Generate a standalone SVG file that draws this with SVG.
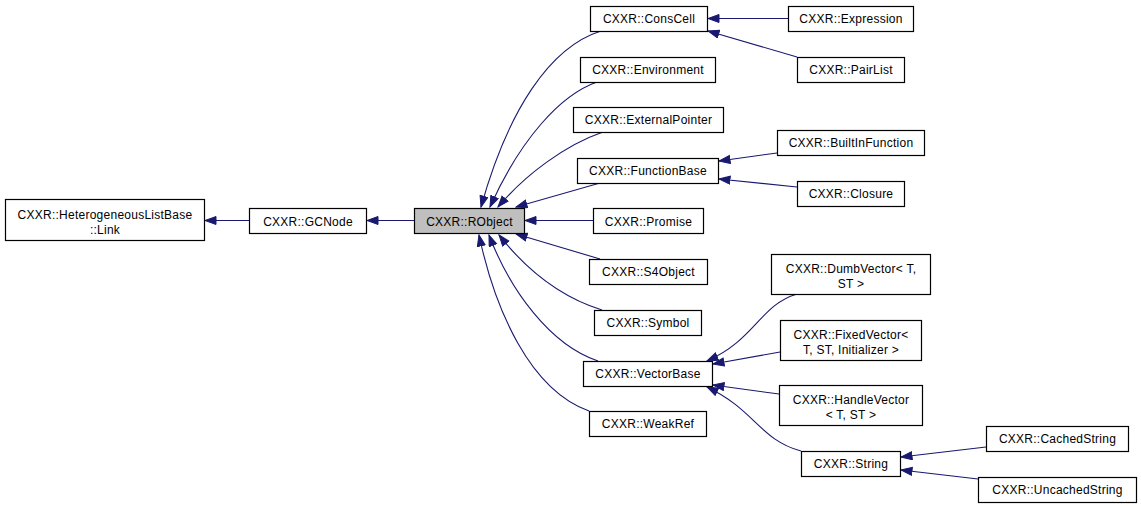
<svg xmlns="http://www.w3.org/2000/svg" width="1141" height="508" viewBox="0 0 1141 508">
<defs>
<style>
.n rect{fill:#fff;stroke:#000;stroke-width:1.2}
.n text{font-family:"Liberation Sans",Arial,sans-serif;font-size:12px;letter-spacing:0.25px;text-anchor:middle;fill:#000}
.e path{fill:none;stroke:#191970;stroke-width:1.1;marker-end:url(#ah)}
</style>
<marker id="ah" markerUnits="userSpaceOnUse" markerWidth="13" markerHeight="10" refX="11.5" refY="4.5" orient="auto">
<path d="M0.5,0.5 L11.5,4.5 L0.5,8.5 z" fill="#191970" stroke="#191970" stroke-width="1"/>
</marker>
</defs>
<rect width="1141" height="508" fill="#fff"/>
<g id="edges" class="e">
<path d="M249,220.5 L205,220.5"/>
<path d="M414,220.5 L367,220.5"/>
<path d="M601,31 C550,47 508,110 481,207"/>
<path d="M597,82 C560,95 520,140 490,207"/>
<path d="M603,132 C565,145 525,175 498,207"/>
<path d="M600,183 L516,207"/>
<path d="M593,220.5 L525,220.5"/>
<path d="M600,259 L516,234"/>
<path d="M602,310 C560,297 525,268 499,235"/>
<path d="M598,361 C550,345 510,290 489,235"/>
<path d="M589,411 C530,390 495,310 479,235"/>
<path d="M788,18.5 L708,18.5"/>
<path d="M797,57 L708,31"/>
<path d="M777,153 L719,161"/>
<path d="M797,187 L719,179"/>
<path d="M797,294 C760,305 755,340 707,361"/>
<path d="M780,352 L713,364"/>
<path d="M779,394 L713,385"/>
<path d="M801,451 C760,440 755,410 707,387"/>
<path d="M986,447 L901,457"/>
<path d="M978,479 L901,470"/>
</g>
<g id="link" class="n"><rect x="5.5" y="199.5" width="199" height="41"/><text x="105" y="218.5">CXXR::HeterogeneousListBase</text><text x="105" y="233.5">::Link</text></g>
<g id="gcnode" class="n"><rect x="249.5" y="208.5" width="117" height="25"/><text x="308" y="225.5">CXXR::GCNode</text></g>
<g id="robject" class="n"><rect x="414.5" y="208.5" width="110" height="25" style="fill:#bfbfbf"/><text x="469.5" y="225.5">CXXR::RObject</text></g>
<g id="conscell" class="n"><rect x="590.5" y="6.5" width="117" height="25"/><text x="649" y="23">CXXR::ConsCell</text></g>
<g id="expression" class="n"><rect x="788.5" y="6.5" width="125" height="25"/><text x="851" y="23">CXXR::Expression</text></g>
<g id="pairlist" class="n"><rect x="797.5" y="57.5" width="107" height="25"/><text x="851" y="74">CXXR::PairList</text></g>
<g id="environment" class="n"><rect x="580.5" y="57.5" width="135" height="25"/><text x="648" y="74">CXXR::Environment</text></g>
<g id="externalpointer" class="n"><rect x="573.5" y="107.5" width="150" height="25"/><text x="648.5" y="124">CXXR::ExternalPointer</text></g>
<g id="builtinfunction" class="n"><rect x="777.5" y="130.5" width="147" height="25"/><text x="851" y="147">CXXR::BuiltInFunction</text></g>
<g id="functionbase" class="n"><rect x="577.5" y="158.5" width="141" height="25"/><text x="648" y="175">CXXR::FunctionBase</text></g>
<g id="closure" class="n"><rect x="797.5" y="181.5" width="107" height="25"/><text x="851" y="198">CXXR::Closure</text></g>
<g id="promise" class="n"><rect x="593.5" y="208.5" width="110" height="25"/><text x="648.5" y="225.5">CXXR::Promise</text></g>
<g id="s4object" class="n"><rect x="589.5" y="259.5" width="118" height="25"/><text x="648.5" y="276">CXXR::S4Object</text></g>
<g id="dumbvector" class="n"><rect x="771.5" y="254.5" width="159" height="40"/><text x="851" y="273">CXXR::DumbVector&lt; T,</text><text x="851" y="288">ST &gt;</text></g>
<g id="symbol" class="n"><rect x="594.5" y="310.5" width="107" height="25"/><text x="648" y="327">CXXR::Symbol</text></g>
<g id="fixedvector" class="n"><rect x="780.5" y="320.5" width="141" height="40"/><text x="851" y="339">CXXR::FixedVector&lt;</text><text x="851" y="354">T, ST, Initializer &gt;</text></g>
<g id="vectorbase" class="n"><rect x="583.5" y="361.5" width="129" height="25"/><text x="648" y="378">CXXR::VectorBase</text></g>
<g id="handlevector" class="n"><rect x="779.5" y="385.5" width="143" height="40"/><text x="851" y="404">CXXR::HandleVector</text><text x="851" y="419">&lt; T, ST &gt;</text></g>
<g id="weakref" class="n"><rect x="589.5" y="411.5" width="117" height="25"/><text x="648" y="428">CXXR::WeakRef</text></g>
<g id="string" class="n"><rect x="801.5" y="451.5" width="99" height="25"/><text x="851" y="468">CXXR::String</text></g>
<g id="cachedstring" class="n"><rect x="986.5" y="426.5" width="142" height="25"/><text x="1057.5" y="443">CXXR::CachedString</text></g>
<g id="uncachedstring" class="n"><rect x="978.5" y="477.5" width="158" height="25"/><text x="1057.5" y="494">CXXR::UncachedString</text></g>
</svg>
